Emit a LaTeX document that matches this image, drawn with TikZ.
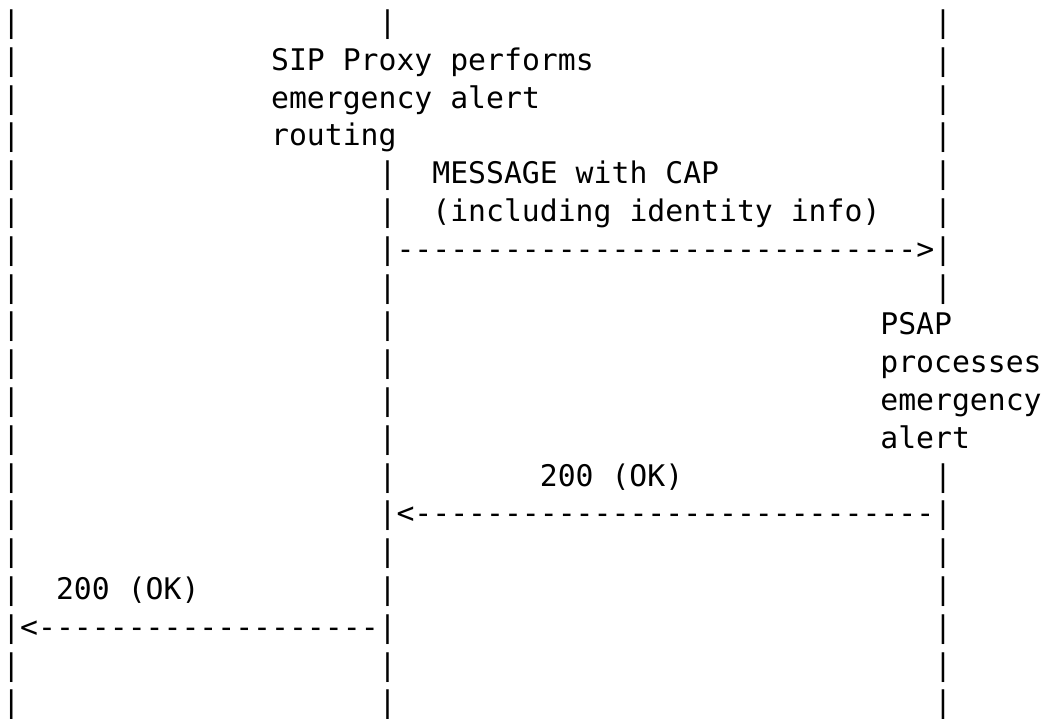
\documentclass[tikz,border=0pt]{standalone}
\usepackage{fontspec}
\setmonofont{DejaVu Sans Mono}
\newlength{\du}
\setlength{\du}{13.44pt}
\tikzset{ascii/.style={anchor=base west,inner sep=0pt,text=black,font=\ttfamily\fontsize{22.33pt}{28pt}\selectfont}}

\begin{document}
\begin{tikzpicture}
\pgftransformxscale{1.000000}
\pgftransformyscale{-2.109400}
\definecolor{dialinecolor}{rgb}{1.000000, 1.000000, 1.000000}
\pgfsetfillcolor{dialinecolor}
\fill (-0.114000\du,0.000000\du) rectangle (58.930000\du,19.020000\du);
\useasboundingbox (-0.114000\du,0.000000\du) rectangle (58.930000\du,19.020000\du);
% row 1
\node[ascii] (orig1) at (0.000000\du,0.862000\du){|};
\node[ascii] (proxy1) at (21.000000\du,0.862000\du){|};
\node[ascii] (psap1) at (52.000000\du,0.862000\du){|};
% row 2
\node[ascii] (orig2) at (0.000000\du,1.862000\du){|};
\node[ascii] (proxynote1) at (15.000000\du,1.862000\du){SIP Proxy performs};
\node[ascii] (psap2) at (52.000000\du,1.862000\du){|};
% row 3
\node[ascii] (orig3) at (0.000000\du,2.862000\du){|};
\node[ascii] (proxynote2) at (15.000000\du,2.862000\du){emergency alert};
\node[ascii] (psap3) at (52.000000\du,2.862000\du){|};
% row 4
\node[ascii] (orig4) at (0.000000\du,3.862000\du){|};
\node[ascii] (proxynote3) at (15.000000\du,3.862000\du){routing};
\node[ascii] (psap4) at (52.000000\du,3.862000\du){|};
% row 5
\node[ascii] (orig5) at (0.000000\du,4.862000\du){|};
\node[ascii] (proxy5) at (21.000000\du,4.862000\du){|};
\node[ascii] (msg1) at (24.000000\du,4.862000\du){MESSAGE with CAP};
\node[ascii] (psap5) at (52.000000\du,4.862000\du){|};
% row 6
\node[ascii] (orig6) at (0.000000\du,5.862000\du){|};
\node[ascii] (proxy6) at (21.000000\du,5.862000\du){|};
\node[ascii] (msg2) at (24.000000\du,5.862000\du){(including identity info)};
\node[ascii] (psap6) at (52.000000\du,5.862000\du){|};
% row 7
\node[ascii] (orig7) at (0.000000\du,6.862000\du){|};
\node[ascii] (proxy7) at (21.000000\du,6.862000\du){|};
\node[ascii] (msgarrow) at (22.000000\du,6.862000\du){----------------------------->};
\node[ascii] (psap7) at (52.000000\du,6.862000\du){|};
% row 8
\node[ascii] (orig8) at (0.000000\du,7.862000\du){|};
\node[ascii] (proxy8) at (21.000000\du,7.862000\du){|};
\node[ascii] (psap8) at (52.000000\du,7.862000\du){|};
% row 9
\node[ascii] (orig9) at (0.000000\du,8.862000\du){|};
\node[ascii] (proxy9) at (21.000000\du,8.862000\du){|};
\node[ascii] (psapnote1) at (49.000000\du,8.862000\du){PSAP};
% row 10
\node[ascii] (orig10) at (0.000000\du,9.862000\du){|};
\node[ascii] (proxy10) at (21.000000\du,9.862000\du){|};
\node[ascii] (psapnote2) at (49.000000\du,9.862000\du){processes};
% row 11
\node[ascii] (orig11) at (0.000000\du,10.862000\du){|};
\node[ascii] (proxy11) at (21.000000\du,10.862000\du){|};
\node[ascii] (psapnote3) at (49.000000\du,10.862000\du){emergency};
% row 12
\node[ascii] (orig12) at (0.000000\du,11.862000\du){|};
\node[ascii] (proxy12) at (21.000000\du,11.862000\du){|};
\node[ascii] (psapnote4) at (49.000000\du,11.862000\du){alert};
% row 13
\node[ascii] (orig13) at (0.000000\du,12.862000\du){|};
\node[ascii] (proxy13) at (21.000000\du,12.862000\du){|};
\node[ascii] (oklabel1) at (30.000000\du,12.862000\du){200 (OK)};
\node[ascii] (psap13) at (52.000000\du,12.862000\du){|};
% row 14
\node[ascii] (orig14) at (0.000000\du,13.862000\du){|};
\node[ascii] (proxy14) at (21.000000\du,13.862000\du){|};
\node[ascii] (okarrow1) at (22.000000\du,13.862000\du){<-----------------------------};
\node[ascii] (psap14) at (52.000000\du,13.862000\du){|};
% row 15
\node[ascii] (orig15) at (0.000000\du,14.862000\du){|};
\node[ascii] (proxy15) at (21.000000\du,14.862000\du){|};
\node[ascii] (psap15) at (52.000000\du,14.862000\du){|};
% row 16
\node[ascii] (orig16) at (0.000000\du,15.862000\du){|};
\node[ascii] (oklabel2) at (3.000000\du,15.862000\du){200 (OK)};
\node[ascii] (proxy16) at (21.000000\du,15.862000\du){|};
\node[ascii] (psap16) at (52.000000\du,15.862000\du){|};
% row 17
\node[ascii] (orig17) at (0.000000\du,16.862000\du){|};
\node[ascii] (okarrow2) at (1.000000\du,16.862000\du){<-------------------};
\node[ascii] (proxy17) at (21.000000\du,16.862000\du){|};
\node[ascii] (psap17) at (52.000000\du,16.862000\du){|};
% row 18
\node[ascii] (orig18) at (0.000000\du,17.862000\du){|};
\node[ascii] (proxy18) at (21.000000\du,17.862000\du){|};
\node[ascii] (psap18) at (52.000000\du,17.862000\du){|};
% row 19
\node[ascii] (orig19) at (0.000000\du,18.862000\du){|};
\node[ascii] (proxy19) at (21.000000\du,18.862000\du){|};
\node[ascii] (psap19) at (52.000000\du,18.862000\du){|};
\end{tikzpicture}
\end{document}
